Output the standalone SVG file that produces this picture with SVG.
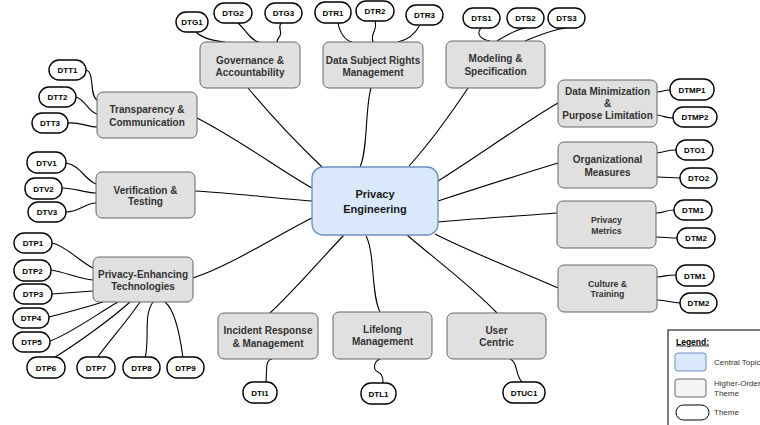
<svg xmlns="http://www.w3.org/2000/svg" width="760" height="425" viewBox="0 0 760 425">
<style>
.bg{fill:#ffffff}
.ho{fill:#e0e0e0;stroke:#666666;stroke-width:1}
.ct{fill:#dae8fc;stroke:#6c8ebf;stroke-width:1.3}
.pill{fill:#ffffff;stroke:#000000;stroke-width:1.4}
.t{font-family:"Liberation Sans",Arial,sans-serif;font-weight:bold;font-size:10px;fill:#333333;text-anchor:middle}
.ts{font-family:"Liberation Sans",Arial,sans-serif;font-weight:bold;font-size:8.7px;fill:#333333;text-anchor:middle}
.tc{font-family:"Liberation Sans",Arial,sans-serif;font-weight:bold;font-size:11px;fill:#1a1a1a;text-anchor:middle}
.tp{font-family:"Liberation Sans",Arial,sans-serif;font-weight:bold;font-size:8px;fill:#000000;text-anchor:middle}
.tl{font-family:"Liberation Sans",Arial,sans-serif;font-size:8px;fill:#333333}
.e{fill:none;stroke:#000000;stroke-width:1.1}
</style>
<rect class="bg" x="0" y="0" width="760" height="425"/>

<g id="connectors">
<!-- central to higher-order -->
<path class="e" d="M248,88 C268,112 300,146 322,167"/>
<path class="e" d="M371,88 C365,108 368,150 360,167"/>
<path class="e" d="M468,88 C450,115 428,145 409,166"/>
<path class="e" d="M558,103 C528,120 472,160 438,181"/>
<path class="e" d="M558,163 C522,174 472,190 438,201"/>
<path class="e" d="M557,213 C520,216 470,219 438,222"/>
<path class="e" d="M558,288 C522,272 470,252 435,234"/>
<path class="e" d="M407,235 C430,255 470,285 497,313"/>
<path class="e" d="M366,236 C375,252 371,295 380,312"/>
<path class="e" d="M344,235 C322,258 292,293 270,313"/>
<path class="e" d="M312,218 C272,238 230,266 193,278"/>
<path class="e" d="M312,201 C272,198 232,193 195,191"/>
<path class="e" d="M312,188 C280,170 240,140 197,118"/>
<!-- theme connectors -->
<path class="e" d="M196,32 C203,39 214,41 225,42"/>
<path class="e" d="M238,23 C246,30 250,40 259,42"/>
<path class="e" d="M281,23 C277,29 283,31 280,36 C278,38 277,40 277,42"/>
<path class="e" d="M338,23 C340,33 345,40 352,42"/>
<path class="e" d="M375,21 C378,31 370,32 373,42"/>
<path class="e" d="M420,25 C415,34 408,40 398,42"/>
<path class="e" d="M481,28 C476,34 480,39 490,41"/>
<path class="e" d="M525,28 C515,30 505,36 497,41"/>
<path class="e" d="M566,28 C550,30 535,37 525,41"/>
<path class="e" d="M86,70 C95,72 89,95 97,100"/>
<path class="e" d="M76,97 C86,100 88,112 97,114"/>
<path class="e" d="M68,123 C80,122 88,127 97,127"/>
<path class="e" d="M66,163 C80,165 85,180 96,184"/>
<path class="e" d="M62,188 C75,188 85,193 96,193"/>
<path class="e" d="M66,212 C80,212 85,203 96,203"/>
<path class="e" d="M52,243 C65,245 80,262 93,268"/>
<path class="e" d="M51,270 C65,272 80,279 93,280"/>
<path class="e" d="M52,294 L93,291"/>
<path class="e" d="M49,317 C65,313 87,307 103,302"/>
<path class="e" d="M50,341 C70,334 100,312 118,302"/>
<path class="e" d="M52,359 C75,345 110,320 130,302"/>
<path class="e" d="M97,358 C110,340 128,320 140,302"/>
<path class="e" d="M145,358 C150,340 143,315 153,302"/>
<path class="e" d="M183,358 C180,335 175,310 165,302"/>
<path class="e" d="M657,92 C663,92 663,90 670,90"/>
<path class="e" d="M657,115 C665,116 665,118 673,118"/>
<path class="e" d="M657,153 C667,152 666,150 676,150"/>
<path class="e" d="M657,177 C668,177 670,178 680,178"/>
<path class="e" d="M656,213 C665,213 665,210 674,210"/>
<path class="e" d="M656,237 C665,237 668,238 677,238"/>
<path class="e" d="M657,277 C667,276 666,275 676,275"/>
<path class="e" d="M657,300 C668,300 670,303 680,303"/>
<path class="e" d="M272,359 C265,360 267,370 266,382"/>
<path class="e" d="M380,359 C373,362 373,370 378,372 C384,375 383,380 383,383"/>
<path class="e" d="M510,359 C518,362 515,375 522,382"/>
</g>

<g id="central">
<rect class="ct" x="312" y="167" width="126" height="68" rx="11"/>
<text class="tc" x="375" y="198">Privacy</text>
<text class="tc" x="375" y="212.5">Engineering</text>
</g>

<g id="governance">
<rect class="ho" x="200" y="42" width="100" height="46" rx="6"/>
<text class="t" x="250" y="63.5">Governance &amp;</text>
<text class="t" x="250" y="75.5">Accountability</text>
</g>
<g id="dsr">
<rect class="ho" x="323" y="42" width="100" height="46" rx="6"/>
<text class="t" x="373" y="63.5">Data Subject Rights</text>
<text class="t" x="373" y="75.5">Management</text>
</g>
<g id="modeling">
<rect class="ho" x="446" y="41" width="99" height="47" rx="6"/>
<text class="t" x="495.5" y="62">Modeling &amp;</text>
<text class="t" x="495.5" y="75">Specification</text>
</g>
<g id="transparency">
<rect class="ho" x="97" y="92" width="100" height="46" rx="6"/>
<text class="t" x="147" y="112.5">Transparency &amp;</text>
<text class="t" x="147" y="125.5">Communication</text>
</g>
<g id="dataminimization">
<rect class="ho" x="558" y="80" width="99" height="47" rx="6"/>
<text class="t" x="607.5" y="95">Data Minimization</text>
<text class="t" x="607.5" y="107">&amp;</text>
<text class="t" x="607.5" y="119">Purpose Limitation</text>
</g>
<g id="organizational">
<rect class="ho" x="558" y="142" width="99" height="46" rx="6"/>
<text class="t" x="607.5" y="162.5">Organizational</text>
<text class="t" x="607.5" y="175.5">Measures</text>
</g>
<g id="metrics">
<rect class="ho" x="557" y="201" width="99" height="47" rx="6"/>
<text class="ts" x="606.5" y="223">Privacy</text>
<text class="ts" x="606.5" y="234">Metrics</text>
</g>
<g id="culture">
<rect class="ho" x="558" y="265" width="99" height="47" rx="6"/>
<text class="ts" x="607.5" y="287">Culture &amp;</text>
<text class="ts" x="607.5" y="297">Training</text>
</g>
<g id="verification">
<rect class="ho" x="96" y="172" width="99" height="46" rx="6"/>
<text class="t" x="145.5" y="193.5">Verification &amp;</text>
<text class="t" x="145.5" y="205">Testing</text>
</g>
<g id="pet">
<rect class="ho" x="93" y="257" width="100" height="45" rx="6"/>
<text class="t" x="143" y="278">Privacy-Enhancing</text>
<text class="t" x="143" y="290">Technologies</text>
</g>
<g id="incident">
<rect class="ho" x="218" y="313" width="100" height="46" rx="6"/>
<text class="t" x="268" y="334">Incident Response</text>
<text class="t" x="268" y="347">&amp; Management</text>
</g>
<g id="lifelong">
<rect class="ho" x="333" y="312" width="99" height="47" rx="6"/>
<text class="t" x="382.5" y="333">Lifelong</text>
<text class="t" x="382.5" y="345">Management</text>
</g>
<g id="usercentric">
<rect class="ho" x="447" y="313" width="99" height="46" rx="6"/>
<text class="t" x="496.5" y="333.5">User</text>
<text class="t" x="496.5" y="346">Centric</text>
</g>

<g id="DTG1"><rect class="pill" x="176" y="12" width="32" height="20" rx="10"/><text class="tp" x="192" y="25">DTG1</text></g>
<g id="DTG2"><rect class="pill" x="214" y="3" width="38" height="20" rx="10"/><text class="tp" x="233" y="16">DTG2</text></g>
<g id="DTG3"><rect class="pill" x="265" y="3" width="37" height="20" rx="10"/><text class="tp" x="283.5" y="16">DTG3</text></g>
<g id="DTR1"><rect class="pill" x="315" y="2" width="36" height="21" rx="10"/><text class="tp" x="333" y="15.5">DTR1</text></g>
<g id="DTR2"><rect class="pill" x="356" y="1" width="38" height="20" rx="10"/><text class="tp" x="375" y="14">DTR2</text></g>
<g id="DTR3"><rect class="pill" x="406" y="5" width="37" height="20" rx="10"/><text class="tp" x="424.5" y="18">DTR3</text></g>
<g id="DTS1"><rect class="pill" x="463" y="8" width="37" height="20" rx="10"/><text class="tp" x="481.5" y="21">DTS1</text></g>
<g id="DTS2"><rect class="pill" x="507" y="8" width="37" height="20" rx="10"/><text class="tp" x="525.5" y="21">DTS2</text></g>
<g id="DTS3"><rect class="pill" x="548" y="8" width="37" height="20" rx="10"/><text class="tp" x="566.5" y="21">DTS3</text></g>
<g id="DTT1"><rect class="pill" x="49" y="60" width="37" height="20" rx="10"/><text class="tp" x="67.5" y="73">DTT1</text></g>
<g id="DTT2"><rect class="pill" x="39" y="87" width="37" height="20" rx="10"/><text class="tp" x="57.5" y="100">DTT2</text></g>
<g id="DTT3"><rect class="pill" x="32" y="113" width="36" height="20" rx="10"/><text class="tp" x="50" y="126">DTT3</text></g>
<g id="DTV1"><rect class="pill" x="27" y="152" width="39" height="21" rx="10"/><text class="tp" x="46.5" y="165.5">DTV1</text></g>
<g id="DTV2"><rect class="pill" x="25" y="178" width="37" height="21" rx="10"/><text class="tp" x="43.5" y="191.5">DTV2</text></g>
<g id="DTV3"><rect class="pill" x="28" y="202" width="38" height="20" rx="10"/><text class="tp" x="47" y="215">DTV3</text></g>
<g id="DTP1"><rect class="pill" x="14" y="233" width="38" height="20" rx="10"/><text class="tp" x="33" y="246">DTP1</text></g>
<g id="DTP2"><rect class="pill" x="14" y="260" width="37" height="21" rx="10"/><text class="tp" x="32.5" y="273.5">DTP2</text></g>
<g id="DTP3"><rect class="pill" x="14" y="284" width="38" height="20" rx="10"/><text class="tp" x="33" y="297">DTP3</text></g>
<g id="DTP4"><rect class="pill" x="13" y="308" width="36" height="20" rx="10"/><text class="tp" x="31" y="321">DTP4</text></g>
<g id="DTP5"><rect class="pill" x="13" y="332" width="37" height="20" rx="10"/><text class="tp" x="31.5" y="345">DTP5</text></g>
<g id="DTP6"><rect class="pill" x="27" y="357" width="38" height="21" rx="10"/><text class="tp" x="46" y="370.5">DTP6</text></g>
<g id="DTP7"><rect class="pill" x="77" y="357" width="38" height="21" rx="10"/><text class="tp" x="96" y="370.5">DTP7</text></g>
<g id="DTP8"><rect class="pill" x="123" y="357" width="37" height="21" rx="10"/><text class="tp" x="141.5" y="370.5">DTP8</text></g>
<g id="DTP9"><rect class="pill" x="167" y="357" width="37" height="21" rx="10"/><text class="tp" x="185.5" y="370.5">DTP9</text></g>
<g id="DTMP1"><rect class="pill" x="670" y="79" width="44" height="21" rx="10"/><text class="tp" x="692" y="92.5">DTMP1</text></g>
<g id="DTMP2"><rect class="pill" x="673" y="107" width="44" height="20" rx="10"/><text class="tp" x="695" y="120">DTMP2</text></g>
<g id="DTO1"><rect class="pill" x="676" y="140" width="37" height="20" rx="10"/><text class="tp" x="694.5" y="153">DTO1</text></g>
<g id="DTO2"><rect class="pill" x="680" y="168" width="37" height="20" rx="10"/><text class="tp" x="698.5" y="181">DTO2</text></g>
<g id="DTM1a"><rect class="pill" x="674" y="200" width="38" height="20" rx="10"/><text class="tp" x="693" y="213">DTM1</text></g>
<g id="DTM2a"><rect class="pill" x="677" y="228" width="38" height="20" rx="10"/><text class="tp" x="696" y="241">DTM2</text></g>
<g id="DTM1b"><rect class="pill" x="676" y="265" width="38" height="21" rx="10"/><text class="tp" x="695" y="278.5">DTM1</text></g>
<g id="DTM2b"><rect class="pill" x="680" y="293" width="37" height="20" rx="10"/><text class="tp" x="698.5" y="306">DTM2</text></g>
<g id="DTI1"><rect class="pill" x="243" y="382" width="34" height="21" rx="10"/><text class="tp" x="260" y="395.5">DTI1</text></g>
<g id="DTL1"><rect class="pill" x="361" y="383" width="35" height="21" rx="10"/><text class="tp" x="378.5" y="396.5">DTL1</text></g>
<g id="DTUC1"><rect class="pill" x="503" y="382" width="42" height="21" rx="10"/><text class="tp" x="524" y="395.5">DTUC1</text></g>

<g id="legend">
<rect x="668" y="330" width="120" height="110" fill="#ffffff" stroke="#000000" stroke-width="1"/>
<text x="676" y="344.5" font-family="Liberation Sans, Arial, sans-serif" font-weight="bold" font-size="8.5px" fill="#000000" text-decoration="underline">Legend:</text>
<rect x="675" y="353" width="31" height="18" rx="3" fill="#dae8fc" stroke="#6c8ebf" stroke-width="1"/>
<text class="tl" x="714" y="365">Central Topic</text>
<rect x="675" y="379" width="31" height="18" rx="3" fill="#f5f5f5" stroke="#666666" stroke-width="1"/>
<text class="tl" x="714" y="386">Higher-Order</text>
<text class="tl" x="714" y="396">Theme</text>
<rect x="676" y="405" width="33" height="15" rx="7.5" fill="#ffffff" stroke="#000000" stroke-width="1"/>
<text class="tl" x="714" y="415">Theme</text>
</g>
</svg>
